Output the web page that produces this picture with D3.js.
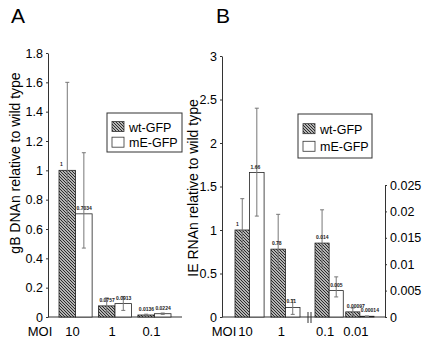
<!DOCTYPE html>
<html>
<head>
<meta charset="utf-8">
<script src="https://cdn.jsdelivr.net/npm/d3@7"></script>
<style>
  body { margin: 0; background: #fff; }
  svg { font-family: "Liberation Sans", Arial, sans-serif; }
</style>
</head>
<body>
<div id="chart"></div>
<script>
// data
var series = ["wt-GFP", "mE-GFP"];

var moiA = ["10", "1", "0.1"];
var valuesA = { "wt-GFP": [1, 0.0757, 0.0136], "mE-GFP": [0.7034, 0.0913, 0.0224] };
var errHiA = { "wt-GFP": [1.6, 0.13, 0.019], "mE-GFP": [1.12, 0.14, 0.027] };
var errLoA = { "wt-GFP": [0.63, 0.035, 0.008], "mE-GFP": [0.47, 0.045, 0.018] };
var labelsA = { "wt-GFP": ["1", "0.0757", "0.0136"], "mE-GFP": ["0.7034", "0.0913", "0.0224"] };
var ticksA = [0, 0.2, 0.4, 0.6, 0.8, 1, 1.2, 1.4, 1.6, 1.8];

// panel B, left scale
var moiB1 = ["10", "1"];
var valuesB1 = { "wt-GFP": [1, 0.78], "mE-GFP": [1.66, 0.11] };
var errHiB1 = { "wt-GFP": [1.36, 1.18], "mE-GFP": [2.4, 0.2] };
var errLoB1 = { "wt-GFP": [0.75, 0.56], "mE-GFP": [1.16, 0.03] };
var labelsB1 = { "wt-GFP": ["1", "0.78"], "mE-GFP": ["1.66", "0.11"] };
var ticksB1 = [0, 0.5, 1, 1.5, 2, 2.5, 3];

// panel B, right scale
var moiB2 = ["0.1", "0.01"];
var valuesB2 = { "wt-GFP": [0.014, 0.00097], "mE-GFP": [0.005, 0.00014] };
var errHiB2 = { "wt-GFP": [0.0203, 0.0017], "mE-GFP": [0.0076, 0.0002] };
var errLoB2 = { "wt-GFP": [0.0095, 0.0003], "mE-GFP": [0.0038, 0.0001] };
var labelsB2 = { "wt-GFP": ["0.014", "0.00097"], "mE-GFP": ["0.005", "0.00014"] };
var ticksB2 = [0, 0.005, 0.01, 0.015, 0.02, 0.025];

var svg = d3.select("#chart").append("svg")
  .attr("width", 426)
  .attr("height", 339);

// hatch pattern
var defs = svg.append("defs");
var pat = defs.append("pattern")
  .attr("id", "hatch")
  .attr("patternUnits", "userSpaceOnUse")
  .attr("width", 3)
  .attr("height", 3);
pat.append("rect").attr("width", 3).attr("height", 3).attr("fill", "#eee");
pat.append("path")
  .attr("d", "M-1,-1 L4,4 M-1,2 L1,4 M2,-1 L4,1")
  .attr("stroke", "#222")
  .attr("stroke-width", 1.1);

var fillFor = function (s) { return s === "wt-GFP" ? "url(#hatch)" : "#fff"; };

var baseY = 317;

function drawBars(cats, vals, hi, lo, labs, x, y) {
  var xs = d3.scaleBand().domain(series).range([0, x.bandwidth()]);
  series.forEach(function (s) {
    var g = svg.append("g");
    g.selectAll("rect")
      .data(cats)
      .enter()
      .append("rect")
      .attr("x", function (d) { return x(d) + xs(s); })
      .attr("y", function (d, i) { return y(vals[s][i]); })
      .attr("width", xs.bandwidth())
      .attr("height", function (d, i) { return y(0) - y(vals[s][i]); })
      .attr("fill", fillFor(s))
      .attr("stroke", "#222")
      .attr("stroke-width", 0.8);

    var cx = function (d) { return x(d) + xs(s) + xs.bandwidth() / 2; };
    g.selectAll("line.err")
      .data(cats)
      .enter()
      .append("line")
      .attr("x1", cx).attr("x2", cx)
      .attr("y1", function (d, i) { return y(hi[s][i]); })
      .attr("y2", function (d, i) { return y(lo[s][i]); })
      .attr("stroke", "#777").attr("stroke-width", 1);
    [hi, lo].forEach(function (e) {
      g.selectAll(null)
        .data(cats)
        .enter()
        .append("line")
        .attr("x1", function (d) { return cx(d) - 2; })
        .attr("x2", function (d) { return cx(d) + 2; })
        .attr("y1", function (d, i) { return y(e[s][i]); })
        .attr("y2", function (d, i) { return y(e[s][i]); })
        .attr("stroke", "#777").attr("stroke-width", 1);
    });

    g.selectAll("text")
      .data(cats)
      .enter()
      .append("text")
      .attr("x", function (d) { return x(d) + xs(s) + 1; })
      .attr("y", function (d, i) { return y(vals[s][i]) - 4; })
      .attr("font-size", "5px")
      .attr("font-weight", "bold")
      .attr("fill", "#222")
      .text(function (d, i) { return labs[s][i]; });
  });
}

function styleAxis(g) {
  g.select(".domain").attr("stroke", "#333");
  g.selectAll(".tick line").attr("stroke", "#333");
  g.selectAll(".tick text").attr("font-size", "12.5px").attr("fill", "#000")
    .attr("font-family", "Liberation Sans, Arial, sans-serif");
}

// ---------- panel A ----------
var yA = d3.scaleLinear().domain([0, 1.8]).range([baseY, 53]);
var xA = d3.scaleBand().domain(moiA).range([59, 171]).paddingInner(0.16);

svg.append("g")
  .attr("transform", "translate(48,0)")
  .call(d3.axisLeft(yA).tickValues(ticksA).tickSize(2).tickSizeOuter(0)
    .tickFormat(d3.format("~g")))
  .call(styleAxis);

svg.append("line")
  .attr("x1", 48).attr("x2", 182)
  .attr("y1", baseY).attr("y2", baseY)
  .attr("stroke", "#333");

drawBars(moiA, valuesA, errHiA, errLoA, labelsA, xA, yA);

svg.append("g").selectAll("text")
  .data(moiA)
  .enter()
  .append("text")
  .attr("x", function (d) { return xA(d) + xA.bandwidth() / 2 - 3; })
  .attr("y", 336)
  .attr("text-anchor", "middle")
  .attr("font-size", "13px")
  .text(function (d) { return d; });

svg.append("text").attr("x", 40).attr("y", 336).attr("text-anchor", "middle")
  .attr("font-size", "13px").text("MOI");

svg.append("text")
  .attr("transform", "translate(20,163)rotate(-90)")
  .attr("text-anchor", "middle")
  .attr("font-size", "14px")
  .text("gB DNAn relative to wild type");

svg.append("text").attr("x", 11).attr("y", 23)
  .attr("font-size", "21px").text("A");

// ---------- panel B ----------
var yB1 = d3.scaleLinear().domain([0, 3]).range([baseY, 56]);
var yB2 = d3.scaleLinear().domain([0, 0.025]).range([baseY, 185]);
var xB1 = d3.scaleBand().domain(moiB1).range([235, 300]).paddingInner(0.19);
var xB2 = d3.scaleBand().domain(moiB2).range([315, 374]).paddingInner(0.08);

svg.append("g")
  .attr("transform", "translate(222,0)")
  .call(d3.axisLeft(yB1).tickValues(ticksB1).tickSize(2).tickSizeOuter(0)
    .tickFormat(d3.format("~g")))
  .call(styleAxis);

svg.append("g")
  .attr("transform", "translate(385,0)")
  .call(d3.axisRight(yB2).tickValues(ticksB2).tickSize(2).tickSizeOuter(0)
    .tickFormat(d3.format("~g")))
  .call(styleAxis);

svg.append("line")
  .attr("x1", 222).attr("x2", 385)
  .attr("y1", baseY).attr("y2", baseY)
  .attr("stroke", "#333");

// axis break
[308, 311].forEach(function (bx) {
  svg.append("line")
    .attr("x1", bx).attr("x2", bx)
    .attr("y1", baseY - 5).attr("y2", baseY + 6)
    .attr("stroke", "#333");
});

drawBars(moiB1, valuesB1, errHiB1, errLoB1, labelsB1, xB1, yB1);
drawBars(moiB2, valuesB2, errHiB2, errLoB2, labelsB2, xB2, yB2);

var labB = svg.append("g");
[[moiB1, xB1], [moiB2, xB2]].forEach(function (p) {
  labB.selectAll(null)
    .data(p[0])
    .enter()
    .append("text")
    .attr("x", function (d) { return p[1](d) + p[1].bandwidth() / 2 - 4; })
    .attr("y", 336)
    .attr("text-anchor", "middle")
    .attr("font-size", "13px")
    .text(function (d) { return d; });
});

svg.append("text").attr("x", 224).attr("y", 336).attr("text-anchor", "middle")
  .attr("font-size", "13px").text("MOI");

svg.append("text")
  .attr("transform", "translate(198,188)rotate(-90)")
  .attr("text-anchor", "middle")
  .attr("font-size", "14px")
  .text("IE RNAn relative to wild type");

svg.append("text").attr("x", 216).attr("y", 23)
  .attr("font-size", "21px").text("B");

// ---------- legends ----------
function legend(x0, y0, w, h) {
  var g = svg.append("g").attr("transform", "translate(" + x0 + "," + y0 + ")");
  g.append("rect").attr("width", w).attr("height", h)
    .attr("fill", "#fff").attr("stroke", "#333");
  series.forEach(function (s, i) {
    var yy = h * 0.22 + i * h * 0.4;
    g.append("rect")
      .attr("x", 5).attr("y", yy)
      .attr("width", 12).attr("height", 10)
      .attr("fill", fillFor(s)).attr("stroke", "#333").attr("stroke-width", 0.8);
    g.append("text")
      .attr("x", 22).attr("y", yy + 10)
      .attr("font-size", "12.5px")
      .text(s);
  });
}
legend(107, 113, 75, 39);
legend(298, 114, 74, 44);
</script>
</body>
</html>
